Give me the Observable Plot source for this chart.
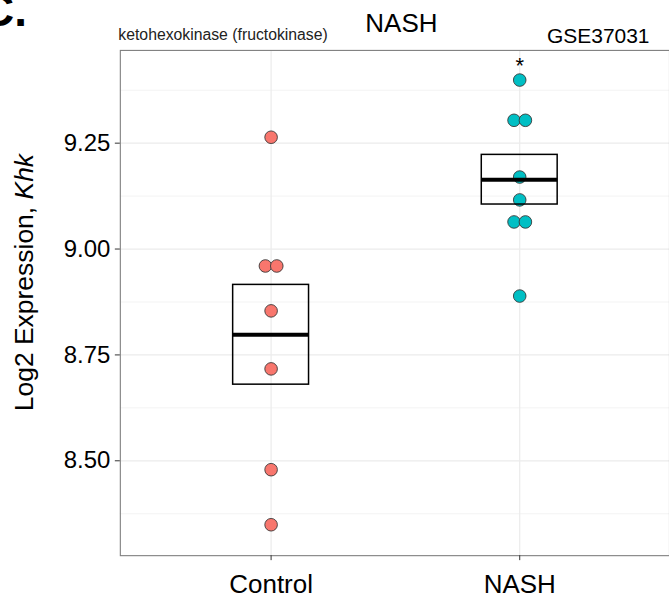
<!DOCTYPE html>
<html><head><meta charset="utf-8">
<script src="https://cdn.jsdelivr.net/npm/d3@7"></script>
<script src="https://cdn.jsdelivr.net/npm/@observablehq/plot@0.6"></script>
<style>html,body{margin:0;padding:0;background:#fff;overflow:hidden;} svg{display:block;}</style>
</head><body><div id="chart"></div>
<script>
// ---- data ----
const groups = ["Control", "NASH"];
const controlValues = [9.264, 8.960, 8.960, 8.854, 8.717, 8.479, 8.349];
const nashValues = [9.399, 9.304, 9.304, 9.170, 9.116, 9.064, 9.064, 8.889];
const groupColors = ["#F8766D", "#00BFC4"];
const yTicks = [8.50, 8.75, 9.00, 9.25];
const yMinorTicks = [8.375, 8.625, 8.875, 9.125, 9.375];
const yDomain = [8.276, 9.469];
const panelLetter = "C.";
const geneLabel = "ketohexokinase (fructokinase)";
const titleText = "NASH";
const datasetLabel = "GSE37031";
const yLabelPlain = "Log2 Expression, ";
const yLabelItalic = "Khk";
const significance = [{group: "NASH", mark: "*"}];

// ---- derived tables ----
const seriesValues = [controlValues, nashValues];
const points = [];
seriesValues.forEach((vals, gi) => {
  const seen = new Map();
  vals.forEach(v => {
    const k = v.toFixed(3);
    const count = vals.filter(u => u.toFixed(3) === k).length;
    const idx = seen.get(k) || 0; seen.set(k, idx + 1);
    points.push({group: groups[gi], value: v, tie: count > 1 ? (idx === 0 ? "left" : "right") : "none"});
  });
});
const summary = groups.map((g, gi) => {
  const vals = seriesValues[gi];
  const m = d3.mean(vals), se = d3.deviation(vals) / Math.sqrt(vals.length);
  return {group: g, mean: m, lo: m - se, hi: m + se};
});

const font = "'Liberation Sans', Arial, Helvetica, sans-serif";
const dotOpts = {x: "group", y: "value", fill: "group", r: 6.3, stroke: "#3a3a3a", strokeWidth: 0.9};

const plot = Plot.plot({
  width: 670, height: 601,
  marginTop: 50, marginLeft: 120, marginRight: 0, marginBottom: 45,
  style: {fontFamily: font, background: "#fff", color: "#000"},
  x: {type: "band", domain: groups, paddingInner: 0.696, paddingOuter: 0.448, label: null},
  y: {domain: yDomain, label: null},
  color: {domain: groups, range: groupColors},
  marks: [
    Plot.gridY(yMinorTicks, {stroke: "#f3f3f3", strokeOpacity: 1, strokeWidth: 1}),
    Plot.gridY(yTicks, {stroke: "#ebebeb", strokeOpacity: 1, strokeWidth: 1.2}),
    Plot.gridX({stroke: "#ebebeb", strokeOpacity: 1, strokeWidth: 1.2}),
    Plot.frame({stroke: "#7f7f7f", strokeWidth: 1.1}),
    Plot.dot(points.filter(d => d.tie === "none"), dotOpts),
    Plot.dot(points.filter(d => d.tie === "left"), {...dotOpts, dx: -5.7}),
    Plot.dot(points.filter(d => d.tie === "right"), {...dotOpts, dx: 5.7}),
    Plot.barY(summary, {x: "group", y1: "lo", y2: "hi", fill: "none", stroke: "#000", strokeWidth: 1.5}),
    Plot.tickY(summary, {x: "group", y: "mean", stroke: "#000", strokeWidth: 4}),
    Plot.axisY({ticks: yTicks, tickFormat: d3.format(".2f"), fontSize: 24, tickSize: 5, tickPadding: 5, label: null, stroke: "#333"}),
    Plot.axisX({fontSize: 26, tickSize: 5, tickPadding: 14, label: null, stroke: "#333"}),
    Plot.text(significance, {x: "group", text: "mark", frameAnchor: "top", dy: 23, lineAnchor: "bottom", fontSize: 22, fill: "#000"}),
    Plot.text([geneLabel], {text: d => d, frameAnchor: "top-left", textAnchor: "start", dx: -2, dy: -10, lineAnchor: "bottom", fontSize: 15.8, fill: "#222"}),
    Plot.text([titleText], {text: d => d, frameAnchor: "top", dx: 6.5, dy: -18, lineAnchor: "bottom", fontSize: 26, fill: "#000"}),
    Plot.text([datasetLabel], {text: d => d, frameAnchor: "top-right", textAnchor: "end", dx: -20, dy: -7, lineAnchor: "bottom", fontSize: 21, fill: "#000"})
  ]
});

const svg = d3.select(plot);
svg.append("text")
  .attr("x", -19).attr("y", 25.6)
  .attr("text-anchor", "start")
  .attr("font-family", font).attr("font-weight", "bold").attr("font-size", 46)
  .attr("fill", "#000").text(panelLetter);
const yl = svg.append("text")
  .attr("transform", "translate(33,283) rotate(-90)")
  .attr("text-anchor", "middle")
  .attr("font-family", font).attr("font-size", 26.5).attr("fill", "#000");
yl.append("tspan").text(yLabelPlain);
yl.append("tspan").attr("font-style", "italic").text(yLabelItalic);

document.getElementById("chart").appendChild(plot);
</script>
</body></html>
